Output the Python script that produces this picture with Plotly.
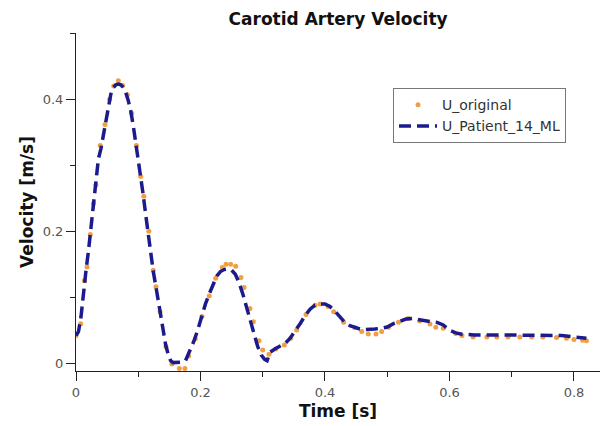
import plotly.graph_objects as go

# ---- data ----
t_orig = [0.000, 0.0075, 0.0134, 0.0177, 0.023, 0.028, 0.032, 0.039, 0.0466, 0.054,
          0.0606, 0.068, 0.075, 0.0825, 0.0895, 0.097, 0.104, 0.109, 0.117, 0.124,
          0.1285, 0.135, 0.1445, 0.154, 0.166, 0.175, 0.181, 0.1917, 0.2024, 0.214,
          0.2244, 0.235, 0.241, 0.2485, 0.2565, 0.265, 0.270, 0.2795, 0.285, 0.294,
          0.300, 0.310, 0.321, 0.3347, 0.345, 0.3545, 0.3695, 0.384, 0.392, 0.405,
          0.414, 0.430, 0.448, 0.459, 0.4696, 0.482, 0.491, 0.502, 0.518, 0.534,
          0.552, 0.5687, 0.578, 0.590, 0.610, 0.620, 0.638, 0.660, 0.676, 0.694,
          0.713, 0.732, 0.750, 0.772, 0.788, 0.800, 0.814, 0.820]
u_orig = [0.042, 0.060, 0.125, 0.146, 0.195, 0.242, 0.270, 0.330, 0.362, 0.400,
          0.420, 0.428, 0.421, 0.407, 0.379, 0.330, 0.283, 0.253, 0.200, 0.141,
          0.116, 0.078, 0.025, -0.001, -0.008, -0.008, 0.011, 0.037, 0.071, 0.102,
          0.129, 0.145, 0.150, 0.150, 0.147, 0.130, 0.115, 0.083, 0.063, 0.034,
          0.020, 0.0136, 0.0217, 0.0277, 0.038, 0.0505, 0.074, 0.088, 0.0898, 0.086,
          0.078, 0.062, 0.054, 0.048, 0.0444, 0.0444, 0.048, 0.0545, 0.062, 0.068,
          0.064, 0.0595, 0.0545, 0.053, 0.045, 0.042, 0.040, 0.040, 0.040, 0.040,
          0.040, 0.040, 0.040, 0.039, 0.038, 0.036, 0.035, 0.034]

t_ml = [0.000, 0.004, 0.008, 0.012, 0.016, 0.020, 0.024, 0.028, 0.032, 0.036,
        0.040, 0.044, 0.048, 0.052, 0.056, 0.060, 0.064, 0.068, 0.072, 0.076,
        0.080, 0.084, 0.088, 0.092, 0.096, 0.100, 0.104, 0.108, 0.112, 0.116,
        0.120, 0.124, 0.128, 0.132, 0.136, 0.140, 0.144, 0.148, 0.152, 0.156,
        0.160, 0.166, 0.172, 0.176, 0.180, 0.184, 0.190, 0.196, 0.202, 0.208,
        0.214, 0.220, 0.226, 0.232, 0.238, 0.244, 0.250, 0.256, 0.262, 0.268,
        0.274, 0.280, 0.286, 0.292, 0.298, 0.303, 0.307, 0.312, 0.320, 0.328,
        0.336, 0.344, 0.352, 0.360, 0.368, 0.376, 0.384, 0.392, 0.400, 0.408,
        0.416, 0.424, 0.432, 0.440, 0.448, 0.456, 0.464, 0.472, 0.480, 0.490,
        0.500, 0.510, 0.520, 0.530, 0.540, 0.550, 0.560, 0.570, 0.580, 0.590,
        0.600, 0.610, 0.620, 0.640, 0.680, 0.720, 0.760, 0.780, 0.800, 0.820]
u_ml = [0.042, 0.048, 0.070, 0.110, 0.140, 0.170, 0.205, 0.240, 0.275, 0.310,
        0.325, 0.345, 0.370, 0.392, 0.408, 0.418, 0.422, 0.423, 0.422, 0.418,
        0.410, 0.398, 0.382, 0.360, 0.335, 0.305, 0.280, 0.255, 0.225, 0.195,
        0.168, 0.140, 0.118, 0.095, 0.072, 0.048, 0.028, 0.014, 0.004, 0.001,
        0.001, 0.001, 0.002, 0.004, 0.012, 0.022, 0.035, 0.052, 0.072, 0.090,
        0.105, 0.120, 0.132, 0.139, 0.142, 0.143, 0.141, 0.135, 0.122, 0.105,
        0.085, 0.063, 0.043, 0.025, 0.012, 0.006, 0.004, 0.017, 0.022, 0.026,
        0.030, 0.038, 0.048, 0.060, 0.072, 0.082, 0.088, 0.090, 0.090, 0.086,
        0.079, 0.070, 0.062, 0.057, 0.054, 0.052, 0.051, 0.051, 0.052, 0.053,
        0.055, 0.060, 0.064, 0.067, 0.068, 0.066, 0.064, 0.063, 0.062, 0.058,
        0.050, 0.046, 0.044, 0.043, 0.043, 0.043, 0.043, 0.042, 0.040, 0.038]

x_ticks = [0, 0.2, 0.4, 0.6, 0.8]
x_tick_labels = ["0", "0.2", "0.4", "0.6", "0.8"]
y_ticks = [0, 0.2, 0.4]
y_tick_labels = ["0", "0.2", "0.4"]

FONT = "DejaVu Sans"

fig = go.Figure()
fig.add_trace(go.Scatter(
    x=t_orig, y=u_orig, mode="markers", name="U_original",
    marker=dict(color="#F0A040", size=5, line=dict(width=0)),
))
fig.add_trace(go.Scatter(
    x=t_ml, y=u_ml, mode="lines", name="U_Patient_14_ML",
    line=dict(color="#1B1B8E", width=3.5, dash="12px,6px"),
))

axis_common = dict(
    showline=True, linecolor="#222222", linewidth=1,
    ticks="outside", ticklen=9, tickwidth=1, tickcolor="#222222",
    showgrid=False, zeroline=False,
    tickfont=dict(family=FONT, size=13, color="#555555"),
)

fig.update_layout(
    width=600, height=426,
    margin=dict(l=76, r=0, t=33, b=55),
    paper_bgcolor="white", plot_bgcolor="white",
    title=dict(text="<b>Carotid Artery Velocity</b>", x=0.5635, xanchor="center",
               y=1 - 19 / 426, yanchor="middle",
               font=dict(family=FONT, size=17, color="#111111")),
    xaxis=dict(
        range=[0, 0.8418], tickvals=x_ticks, ticktext=x_tick_labels,
        title=dict(text="<b>Time [s]</b>", standoff=6,
                   font=dict(family=FONT, size=17, color="#111111")),
        minor=dict(dtick=0.1, tick0=0, ticks="outside", ticklen=5,
                   tickcolor="#222222", showgrid=False),
        **axis_common,
    ),
    yaxis=dict(
        range=[-0.0117, 0.5005], tickvals=y_ticks, ticktext=y_tick_labels,
        title=dict(text="<b>Velocity [m/s]</b>", standoff=4,
                   font=dict(family=FONT, size=17, color="#111111")),
        minor=dict(dtick=0.1, tick0=0, ticks="outside", ticklen=5,
                   tickcolor="#222222", showgrid=False),
        **axis_common,
    ),
    legend=dict(
        x=0.605, y=0.837, xanchor="left", yanchor="top",
        bordercolor="#777777", borderwidth=1, bgcolor="white",
        itemwidth=38,
        font=dict(family=FONT, size=14, color="#333333"),
    ),
    showlegend=True,
)

fig.write_html("out.html")
